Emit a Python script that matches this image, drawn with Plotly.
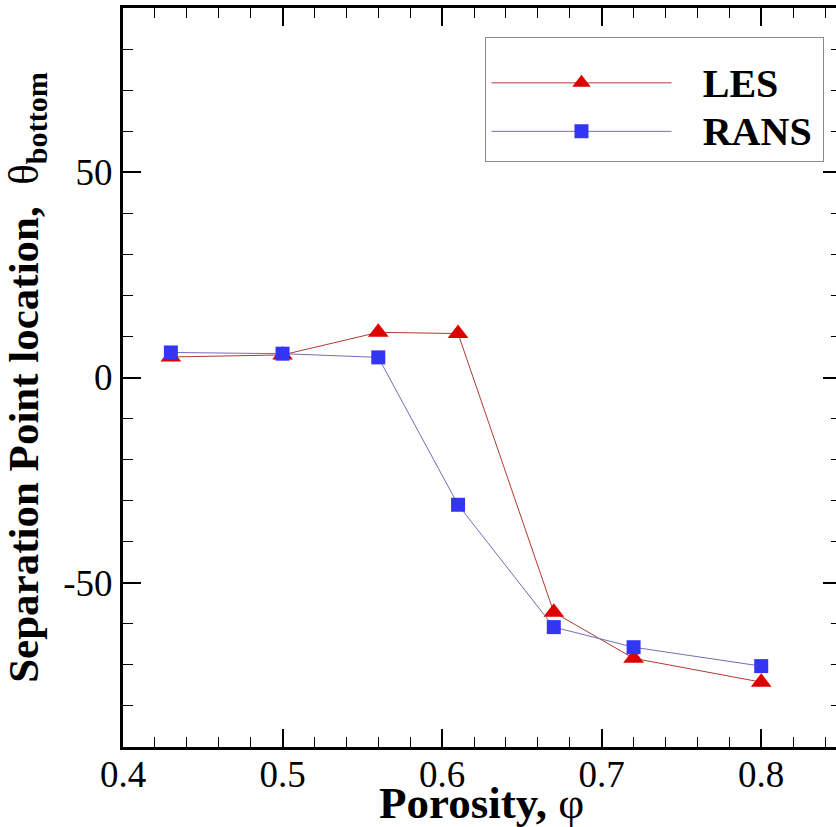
import plotly.graph_objects as go

porosity = [0.43, 0.50, 0.56, 0.61, 0.67, 0.72, 0.80]
les = [5.0, 5.5, 11.0, 10.7, -57.2, -68.4, -74.2]
rans = [6.1, 5.8, 4.9, -31.0, -60.8, -65.7, -70.3]
x_ticks = [0.4, 0.5, 0.6, 0.7, 0.8]
x_tick_labels = ["0.4", "0.5", "0.6", "0.7", "0.8"]
y_ticks = [-50, 0, 50]
y_tick_labels = ["-50", "0", "50"]

W, H = 844, 827          # right frame edge lies just outside the 836px window
L, T, R, B = 123, 8, 0, 80
plot_w = W - L - R
plot_h = H - T - B

def legend_label(s):
    return ("\u00a0\u00a0\u00a0<span style='font-size:40px'>" + s + "</span>"
            "<span style='font-size:24px'>\u00a0</span>")

fig = go.Figure()
fig.add_trace(go.Scatter(
    x=porosity, y=les, name=legend_label("LES"), mode="lines+markers",
    line=dict(color="#B03A30", width=1),
    marker=dict(symbol="triangle-up", size=18, color="#DD0000"),
))
fig.add_trace(go.Scatter(
    x=porosity, y=rans, name=legend_label("RANS"), mode="lines+markers",
    line=dict(color="#6F6FB8", width=1),
    marker=dict(symbol="square", size=14, color="#3434F5"),
))

font_family = "Liberation Serif, Times New Roman, serif"
fig.update_layout(
    width=W, height=H,
    margin=dict(l=L, r=R, t=T, b=B, pad=0),
    paper_bgcolor="white", plot_bgcolor="white",
    font=dict(family=font_family, color="black"),
    showlegend=True,
    legend=dict(
        x=(487 - L) / plot_w, y=1 - (37 - T) / plot_h,
        xanchor="left", yanchor="top",
        bordercolor="#8a8a8a", borderwidth=1, bgcolor="white",
        font=dict(size=35, family=font_family, color="black", weight="bold"),
        title=dict(text="\u00a0", font=dict(size=12)),
        itemwidth=180, tracegroupgap=0,
    ),
    xaxis=dict(
        range=[0.4, 0.85], tickvals=x_ticks, ticktext=x_tick_labels,
        ticks="inside", ticklen=18, tickwidth=2, tickcolor="black",
        minor=dict(dtick=0.02, ticks="inside", ticklen=10, tickwidth=1, tickcolor="black", showgrid=False),
        showline=True, linecolor="black", linewidth=3, mirror="ticks",
        showgrid=False, zeroline=False,
        tickfont=dict(size=37, family=font_family),
        ticklabelstandoff=-7,
        title=dict(text=""),
    ),
    yaxis=dict(
        range=[-90, 90], tickvals=y_ticks, ticktext=y_tick_labels,
        ticks="inside", ticklen=18, tickwidth=2, tickcolor="black",
        minor=dict(dtick=10, ticks="inside", ticklen=10, tickwidth=1, tickcolor="black", showgrid=False),
        showline=True, linecolor="black", linewidth=3, mirror="ticks",
        showgrid=False, zeroline=False,
        tickfont=dict(size=37, family=font_family),
        title=dict(text="<b>Separation Point location,</b>  θ<sub><b>bottom</b></sub>",
                   font=dict(size=43, family=font_family), standoff=15),
    ),
    annotations=[dict(
        text="<b>Porosity,</b> φ", xref="paper", yref="paper",
        x=(483 - L) / plot_w, y=0, xanchor="center", yanchor="middle", yshift=-56,
        showarrow=False, font=dict(size=45, family=font_family, color="black"),
    )],
)
fig.write_html(
    "out.html",
    config={"displayModeBar": False},
    post_script="document.documentElement.style.overflow='hidden';"
                "document.body.style.overflow='hidden';document.body.style.margin='0';",
)
